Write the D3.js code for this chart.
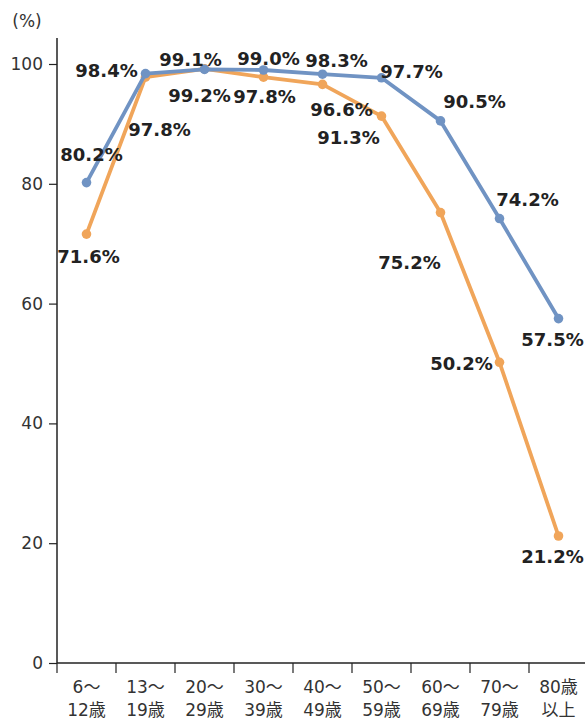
<!DOCTYPE html>
<html>
<head>
<meta charset="utf-8">
<script src="https://cdn.jsdelivr.net/npm/d3@7"></script>
<style>
  body { margin: 0; background: #fff; }
  svg { display: block; }
</style>
</head>
<body>
<svg id="chart" width="585" height="720"></svg>
<script>
// age groups (two line tick labels)
var ageTop = ["6～", "13～", "20～", "30～", "40～", "50～", "60～", "70～", "80歳"];
var ageBottom = ["12歳", "19歳", "29歳", "39歳", "49歳", "59歳", "69歳", "79歳", "以上"];
var blueValues = [80.2, 98.4, 99.1, 99.0, 98.3, 97.7, 90.5, 74.2, 57.5];
var orangeValues = [71.6, 97.8, 99.2, 97.8, 96.6, 91.3, 75.2, 50.2, 21.2];
var yTicks = [0, 20, 40, 60, 80, 100];

// label offsets from the point (dx, dy of text centre)
var blueOffsets = [[5, -28], [-39, -3], [-14, -10], [5, -11], [14, -14], [30, -6], [34, -19], [28, -19], [-6, 21]];
var orangeOffsets = [[2, 22], [14, 52], [-5, 27], [1, 19], [19, 25], [-33, 21], [-31, 50], [-38, 1], [-6, 21]];

var svg = d3.select("#chart");
var font = "'DejaVu Sans', Verdana, 'Noto Sans CJK JP', sans-serif";

var x = d3.scaleBand().domain(ageTop).range([57, 588]).padding(0);
var y = d3.scaleLinear().domain([0, 100]).range([663, 64]);

// y axis
var yAxis = svg.append("g")
  .attr("transform", "translate(57,0)")
  .call(d3.axisLeft(y).tickValues(yTicks).tickSize(8).tickPadding(6));
yAxis.select(".domain").remove();
yAxis.selectAll("line").attr("stroke", "#222").attr("stroke-width", 1.2);
yAxis.selectAll("text").attr("font-family", font).attr("font-size", 17).attr("fill", "#333");

svg.append("line")
  .attr("x1", 57).attr("x2", 57).attr("y1", 38).attr("y2", 663)
  .attr("stroke", "#222").attr("stroke-width", 1.5);

svg.append("text")
  .attr("x", 27).attr("y", 27)
  .attr("text-anchor", "middle")
  .attr("font-family", font).attr("font-size", 17).attr("fill", "#333")
  .text("(%)");

// x axis
svg.append("line")
  .attr("x1", 57).attr("x2", 588).attr("y1", 663).attr("y2", 663)
  .attr("stroke", "#222").attr("stroke-width", 1.5);

var xg = svg.append("g").selectAll("g")
  .data(ageTop)
  .enter().append("g");

xg.append("line")
  .attr("x1", d => x(d)).attr("x2", d => x(d))
  .attr("y1", 663).attr("y2", 673)
  .attr("stroke", "#222").attr("stroke-width", 1.2);

xg.append("text")
  .attr("x", d => x(d) + x.bandwidth() / 2)
  .attr("y", 693)
  .attr("text-anchor", "middle")
  .attr("font-family", font).attr("font-size", 17).attr("fill", "#333")
  .text(d => d);

xg.append("text")
  .attr("x", d => x(d) + x.bandwidth() / 2)
  .attr("y", 716)
  .attr("text-anchor", "middle")
  .attr("font-family", font).attr("font-size", 17).attr("fill", "#333")
  .text((d, i) => ageBottom[i]);

function drawSeries(values, color) {
  var line = d3.line()
    .x((d, i) => x(ageTop[i]) + x.bandwidth() / 2)
    .y(d => y(d));

  svg.append("path")
    .datum(values)
    .attr("d", line)
    .attr("fill", "none")
    .attr("stroke", color)
    .attr("stroke-width", 3.8)
    .attr("stroke-linejoin", "round");

  svg.append("g").selectAll("circle")
    .data(values)
    .enter().append("circle")
    .attr("cx", (d, i) => x(ageTop[i]) + x.bandwidth() / 2)
    .attr("cy", d => y(d))
    .attr("r", 4.8)
    .attr("fill", color);
}

function drawLabels(values, offsets) {
  svg.append("g").selectAll("text")
    .data(values)
    .enter().append("text")
    .attr("x", (d, i) => x(ageTop[i]) + x.bandwidth() / 2 + offsets[i][0])
    .attr("y", (d, i) => y(d) + offsets[i][1])
    .attr("dy", "0.36em")
    .attr("text-anchor", "middle")
    .attr("font-family", font).attr("font-size", 18).attr("font-weight", "bold")
    .attr("fill", "#222")
    .text(d => d.toFixed(1) + "%");
}

drawSeries(orangeValues, "#f0a55a");
drawSeries(blueValues, "#7093c3");
drawLabels(blueValues, blueOffsets);
drawLabels(orangeValues, orangeOffsets);
</script>
</body>
</html>
